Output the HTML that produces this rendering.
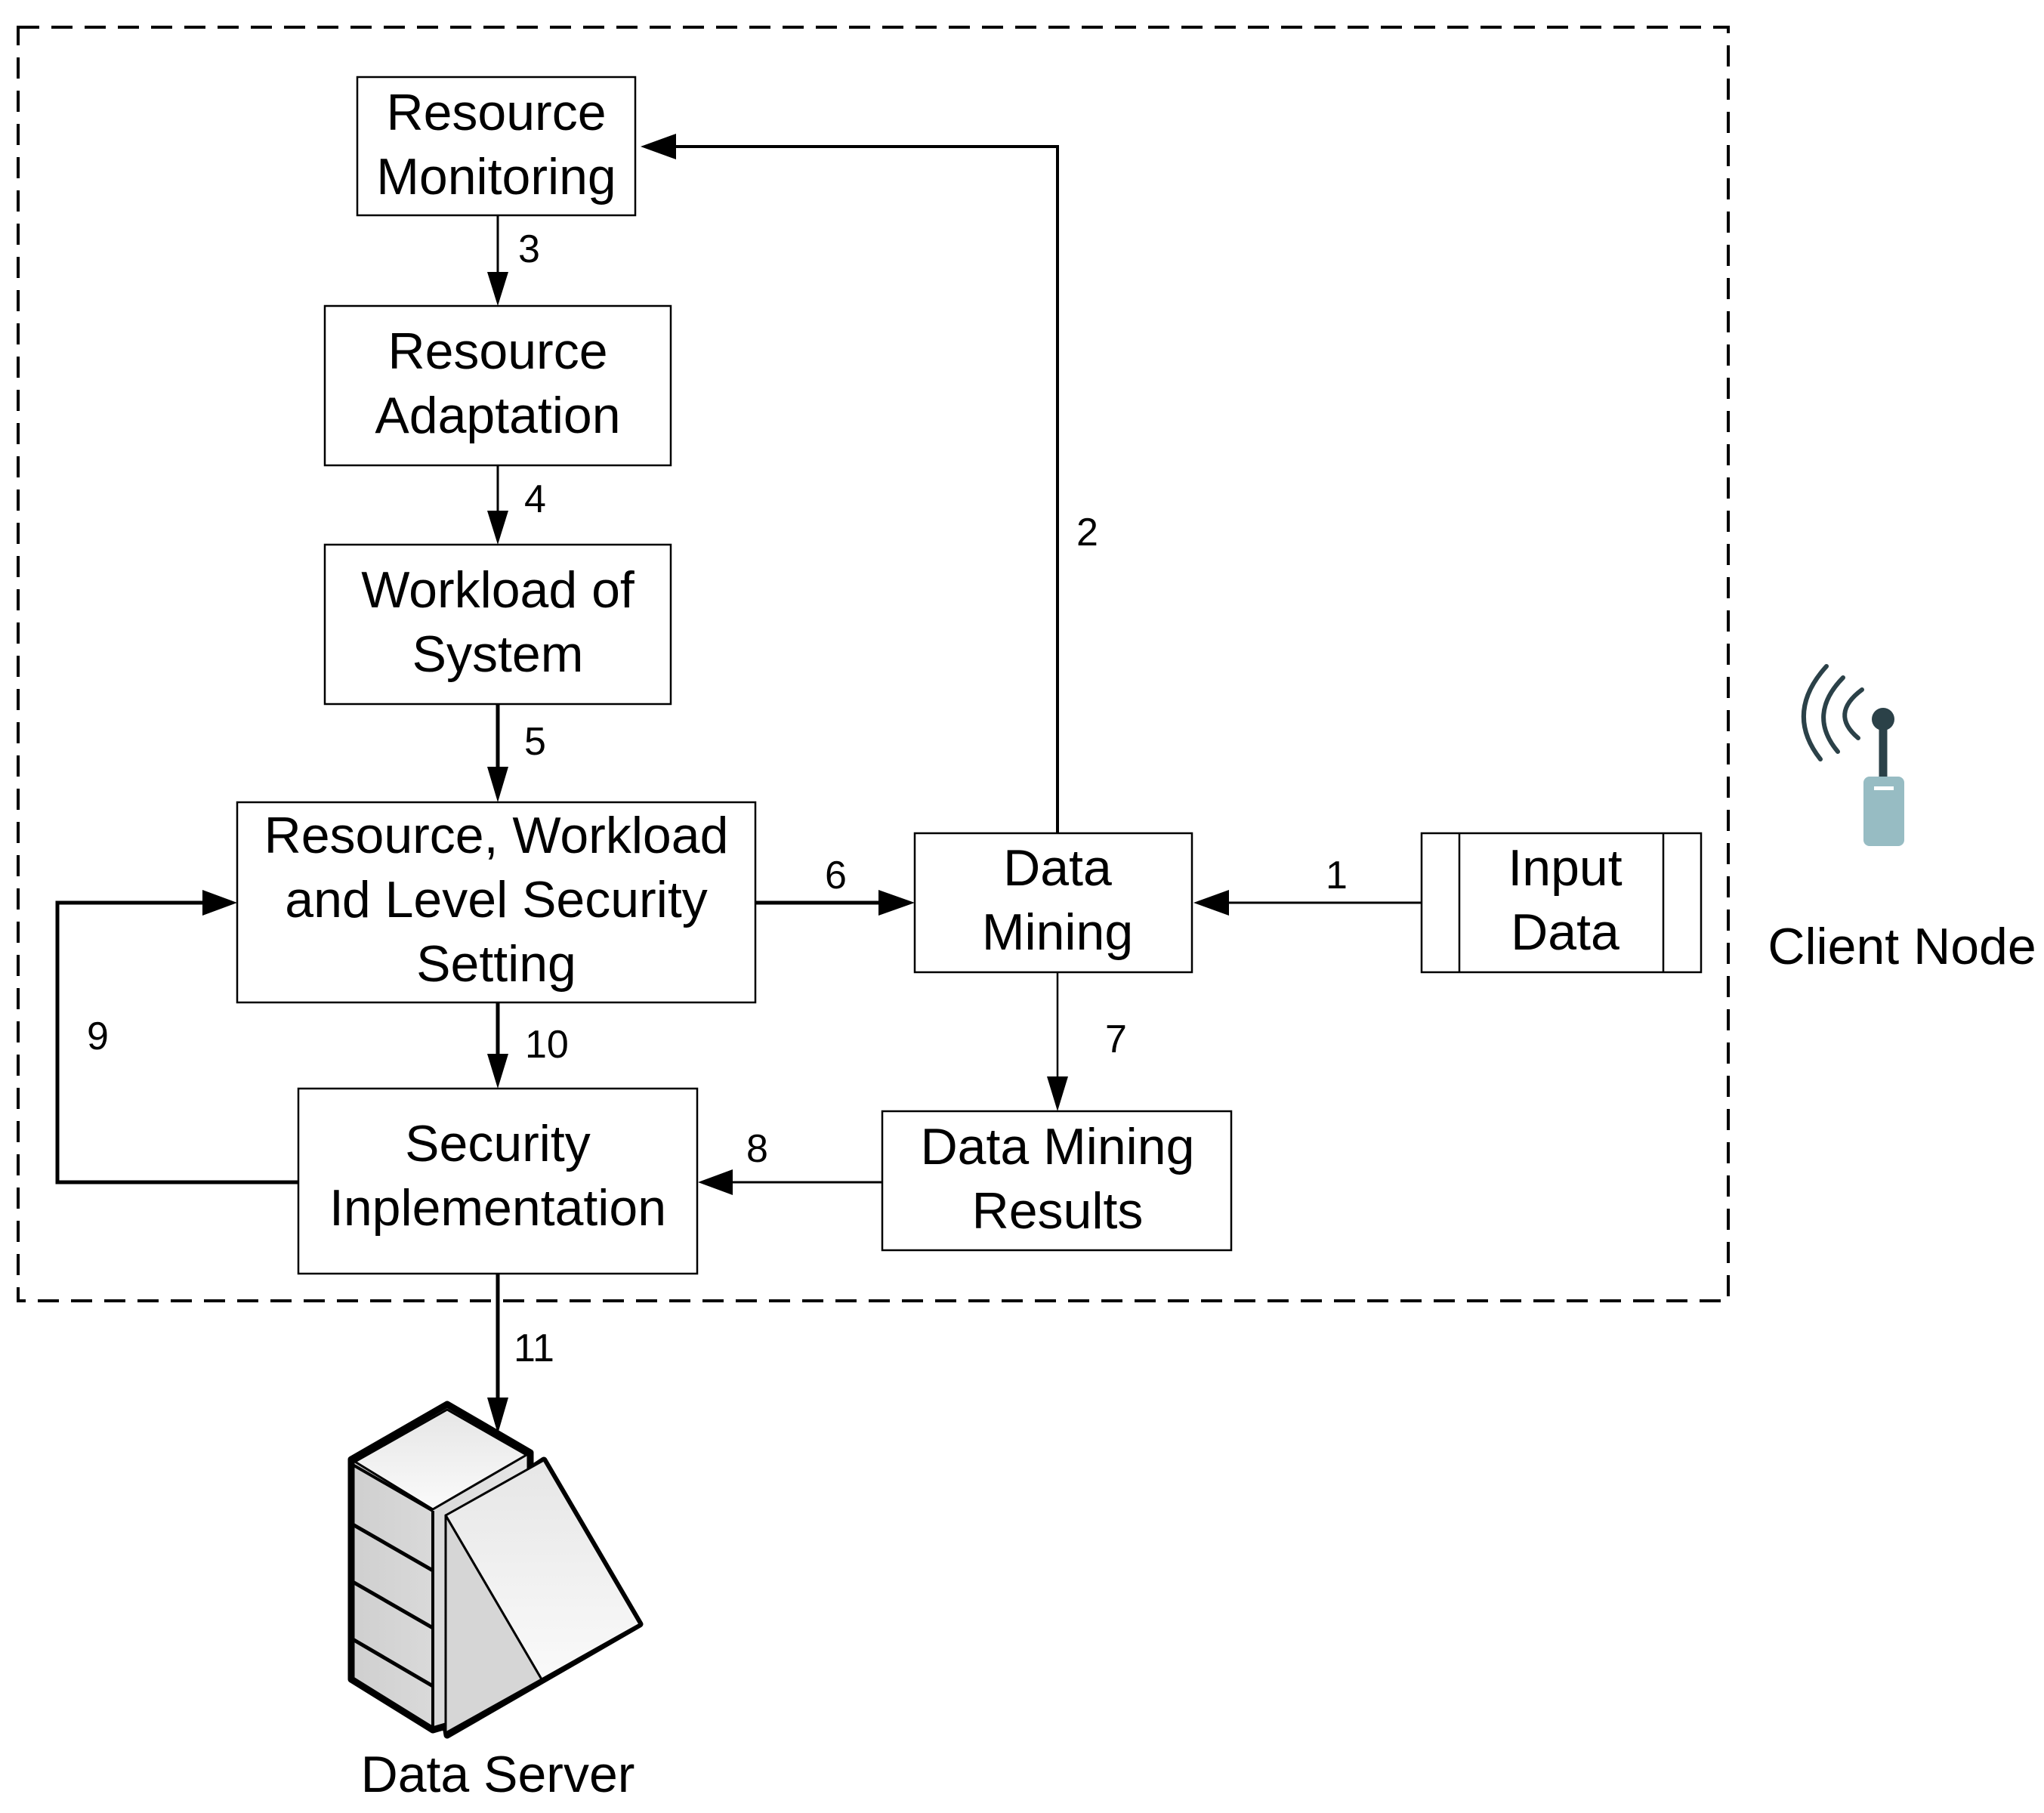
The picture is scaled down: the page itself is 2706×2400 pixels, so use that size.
<!DOCTYPE html>
<html><head><meta charset="utf-8"><style>
html,body{margin:0;padding:0;background:#fff;}
svg{display:block;}
text{font-family:"Liberation Sans",Arial,sans-serif;fill:#000;}
</style></head><body>
<svg width="2706" height="2400" viewBox="0 0 2706 2400" xmlns="http://www.w3.org/2000/svg">
<defs>
<linearGradient id="g1" x1="0" y1="0" x2="1" y2="0"><stop offset="0" stop-color="#cfcfcf"/><stop offset="1" stop-color="#f4f4f4"/></linearGradient>
<linearGradient id="g2" x1="0" y1="0" x2="0" y2="1"><stop offset="0" stop-color="#e6e6e6"/><stop offset="1" stop-color="#fafafa"/></linearGradient>
</defs>
<rect x="24" y="36" width="2264" height="1686" fill="none" stroke="#000" stroke-width="4" stroke-dasharray="28,16"/>

<g fill="#fff" stroke="#000" stroke-width="2.5">
<rect x="473" y="102" width="368" height="183"/>
<rect x="430" y="405" width="458" height="211"/>
<rect x="430" y="721" width="458" height="211"/>
<rect x="314" y="1062" width="686" height="265"/>
<rect x="395" y="1441" width="528" height="245"/>
<rect x="1211" y="1103" width="367" height="184"/>
<rect x="1168" y="1471" width="462" height="184"/>
<rect x="1882" y="1103" width="370" height="184"/>
<line x1="1932" y1="1103" x2="1932" y2="1287"/>
<line x1="2202" y1="1103" x2="2202" y2="1287"/>
</g>

<g font-size="68" text-anchor="middle">
<text x="657" y="172">Resource</text><text x="657" y="257">Monitoring</text>
<text x="659" y="488">Resource</text><text x="659" y="573">Adaptation</text>
<text x="659" y="804">Workload of</text><text x="659" y="889">System</text>
<text x="657" y="1129">Resource, Workload</text><text x="657" y="1214">and Level Security</text><text x="657" y="1299">Setting</text>
<text x="659" y="1537">Security</text><text x="659" y="1622">Inplementation</text>
<text x="1400" y="1172">Data</text><text x="1400" y="1257">Mining</text>
<text x="1400" y="1541">Data Mining</text><text x="1400" y="1626">Results</text>
<text x="2072" y="1172">Input</text><text x="2072" y="1257">Data</text>
<text x="2518" y="1276">Client Node</text>
<text x="659" y="2372">Data Server</text>
</g>

<g stroke="#000" fill="none">
<line x1="659" y1="285" x2="659" y2="360" stroke-width="3"/>
<line x1="659" y1="616" x2="659" y2="676" stroke-width="3"/>
<line x1="659" y1="932" x2="659" y2="1015" stroke-width="5"/>
<line x1="659" y1="1327" x2="659" y2="1395" stroke-width="5"/>
<line x1="659" y1="1686" x2="659" y2="1850" stroke-width="5"/>
<polyline points="1400,1103 1400,194 895,194" stroke-width="4"/>
<line x1="1000" y1="1195" x2="1165" y2="1195" stroke-width="5"/>
<line x1="1882" y1="1195" x2="1625" y2="1195" stroke-width="3"/>
<line x1="1400" y1="1287" x2="1400" y2="1425" stroke-width="2.5"/>
<line x1="1168" y1="1565" x2="970" y2="1565" stroke-width="3"/>
<polyline points="395,1565 76,1565 76,1195 270,1195" stroke-width="5"/>
</g>
<g fill="#000">
<polygon points="645,360 673,360 659,405"/>
<polygon points="645,676 673,676 659,721"/>
<polygon points="645,1015 673,1015 659,1062"/>
<polygon points="645,1395 673,1395 659,1441"/>
<polygon points="645,1850 673,1850 659,1898"/>
<polygon points="895,177 895,211 848,194"/>
<polygon points="1163,1178 1163,1212 1211,1195"/>
<polygon points="1627,1178 1627,1212 1580,1195"/>
<polygon points="1386,1425 1414,1425 1400,1471"/>
<polygon points="970,1548 970,1582 924,1565"/>
<polygon points="268,1178 268,1212 314,1195"/>
</g>

<g font-size="52">
<text x="686" y="347">3</text>
<text x="694" y="678">4</text>
<text x="694" y="999">5</text>
<text x="1425" y="722">2</text>
<text x="1092" y="1176">6</text>
<text x="1755" y="1176">1</text>
<text x="1463" y="1393">7</text>
<text x="988" y="1538">8</text>
<text x="115" y="1389">9</text>
<text x="695" y="1400">10</text>
<text x="680" y="1802">11</text>
</g>

<g stroke="#000" stroke-width="9" stroke-linejoin="round">
<polygon points="465,1932 592,1859 702,1923 702,1945 720,1933 847,2150 592,2297 590,2285 573,2290 465,2223" fill="url(#g1)"/>
<polygon points="470,1935 592,1866 697,1926 573,1998" fill="url(#g2)" stroke-width="3"/>
<polygon points="590,2006 720,1933 847,2150 717,2223" fill="url(#g2)" stroke-width="3"/>
<polygon points="590,2006 717,2223 590,2294" fill="#d6d6d6" stroke-width="3"/>
<line x1="467" y1="1939" x2="573" y2="2000" stroke-width="4"/>
<line x1="573" y1="2000" x2="573" y2="2288" stroke-width="4"/>
<line x1="467" y1="2018" x2="573" y2="2079" stroke-width="5"/>
<line x1="467" y1="2094" x2="573" y2="2155" stroke-width="5"/>
<line x1="467" y1="2170" x2="573" y2="2232" stroke-width="5"/>
</g>

<g stroke="#2b4148" stroke-width="6" fill="none" stroke-linecap="round">
<path d="M2418,882 Q2362,944 2410,1005"/>
<path d="M2440,897 Q2392,946 2433,995"/>
<path d="M2465,913 Q2422,945 2460,977"/>
</g>
<line x1="2493" y1="952" x2="2493" y2="1030" stroke="#2b4148" stroke-width="11"/>
<circle cx="2493" cy="952" r="15" fill="#2b4148"/>
<rect x="2467" y="1028" width="54" height="92" rx="8" fill="#97bcc3"/>
<rect x="2481" y="1041" width="26" height="5" fill="#fff"/>
</svg>
</body></html>
